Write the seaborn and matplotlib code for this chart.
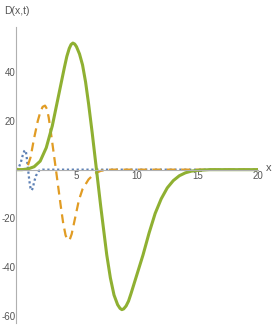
import numpy as np
import pandas as pd
import matplotlib
matplotlib.use("Agg")
import matplotlib.pyplot as plt
from matplotlib.ticker import MultipleLocator
import seaborn as sns

# curves
blue_x = [0, 0.2, 0.4, 0.55, 0.68, 0.75, 0.82, 0.9, 1.0, 1.1, 1.2, 1.3, 1.4,
          1.5, 1.65, 1.9, 2.2, 20]
blue_y = [0, 0.5, 3, 5.8, 7.6, 8, 7.4, 4.5, 0, -4.5, -7.6, -8.5, -7.4,
          -5, -2.5, -0.4, 0, 0]

orange_x = [0, 0.5, 0.9, 1.2, 1.5, 1.8, 2.0, 2.2, 2.4, 2.55, 2.7, 2.85, 3.0,
            3.15, 3.3, 3.5, 3.7, 3.9, 4.1, 4.25, 4.35, 4.45, 4.6, 4.9, 5.2,
            5.5, 6.0, 6.5, 7.0, 7.5, 8, 20]
orange_y = [0, 0, 0.5, 5, 13, 20, 23.5, 25.8, 26.3, 25, 21.5, 16.5, 11,
            5.5, 0, -7.5, -15, -22, -27, -28.7, -29, -28.6, -26.5, -19.5,
            -12.5, -8, -4, -1.6, -0.5, -0.1, 0, 0]

green_x = [0, 0.5, 1.0, 1.5, 2.0, 2.5, 3.0, 3.5, 4.0, 4.2, 4.4, 4.55, 4.7,
           4.85, 5.0, 5.25, 5.5, 5.75, 6.0, 6.3, 6.65, 7.0, 7.5, 7.8, 8.1,
           8.4, 8.6, 8.75, 8.9, 9.1, 9.3, 9.5, 10.0, 10.5, 11.0, 11.5, 12.0,
           12.5, 13.0, 13.5, 14.0, 14.5, 15.0, 16.0, 20]
green_y = [0, 0, 0.3, 1.2, 3.5, 9, 18, 30, 42, 46.5, 49.8, 51.4, 52, 51.6,
           50.5, 47.5, 43, 36, 27, 15, 0, -15, -35, -44.5, -51.5, -55.5,
           -57, -57.5, -57.2, -56, -54, -51, -43, -35, -26, -18, -12, -7.5,
           -4.5, -2.5, -1.3, -0.6, -0.3, 0, 0]

x_ticks = [5, 10, 15, 20]
y_ticks = [-60, -40, -20, 20, 40]

sns.set_style("white")
plt.rcParams['font.family'] = ['Liberation Sans', 'DejaVu Sans']
plt.rcParams['axes.unicode_minus'] = False

fig = plt.figure(figsize=(2.73, 3.27), dpi=100)
ax = fig.add_axes([16 / 273, 1 - 323 / 327, 242 / 273, 296 / 327])

sns.lineplot(x=blue_x, y=blue_y, ax=ax, color="#5E81B5", lw=1.6,
             linestyle=(0, (1, 1.2)), sort=False)
sns.lineplot(x=orange_x, y=orange_y, ax=ax, color="#E19C24", lw=1.6,
             linestyle=(0, (4, 2.5)), sort=False)
sns.lineplot(x=green_x, y=green_y, ax=ax, color="#8FB032", lw=2.2, sort=False)

ax.set_xlim(0, 20)
ax.set_ylim(-63, 58.6)

grey = "#b0b0b0"
for s in ["top", "right"]:
    ax.spines[s].set_visible(False)
ax.spines["left"].set_position(("data", 0))
ax.spines["bottom"].set_position(("data", 0))
ax.spines["left"].set_color(grey)
ax.spines["bottom"].set_color(grey)
ax.spines["left"].set_linewidth(0.8)
ax.spines["bottom"].set_linewidth(0.8)

ax.set_xticks(x_ticks)
ax.set_yticks(y_ticks)
ax.xaxis.set_minor_locator(MultipleLocator(1))
ax.yaxis.set_minor_locator(MultipleLocator(5))
ax.tick_params(axis="both", which="major", direction="in", length=4,
               width=0.7, color=grey, labelsize=7, labelcolor="#555555", pad=1)
ax.tick_params(axis="y", which="major", pad=0.5)
ax.tick_params(axis="both", which="minor", direction="in", length=2,
               width=0.6, color=grey)
ax.patch.set_alpha(0)

fig.text(4 / 273, 1 - 11 / 327, "D(x,t)", fontsize=7.5, color="#555555", va="center")
fig.text(266 / 273, 1 - 168 / 327, "x", fontsize=8, color="#555555", va="center")

fig.savefig("out.png", dpi=100)
